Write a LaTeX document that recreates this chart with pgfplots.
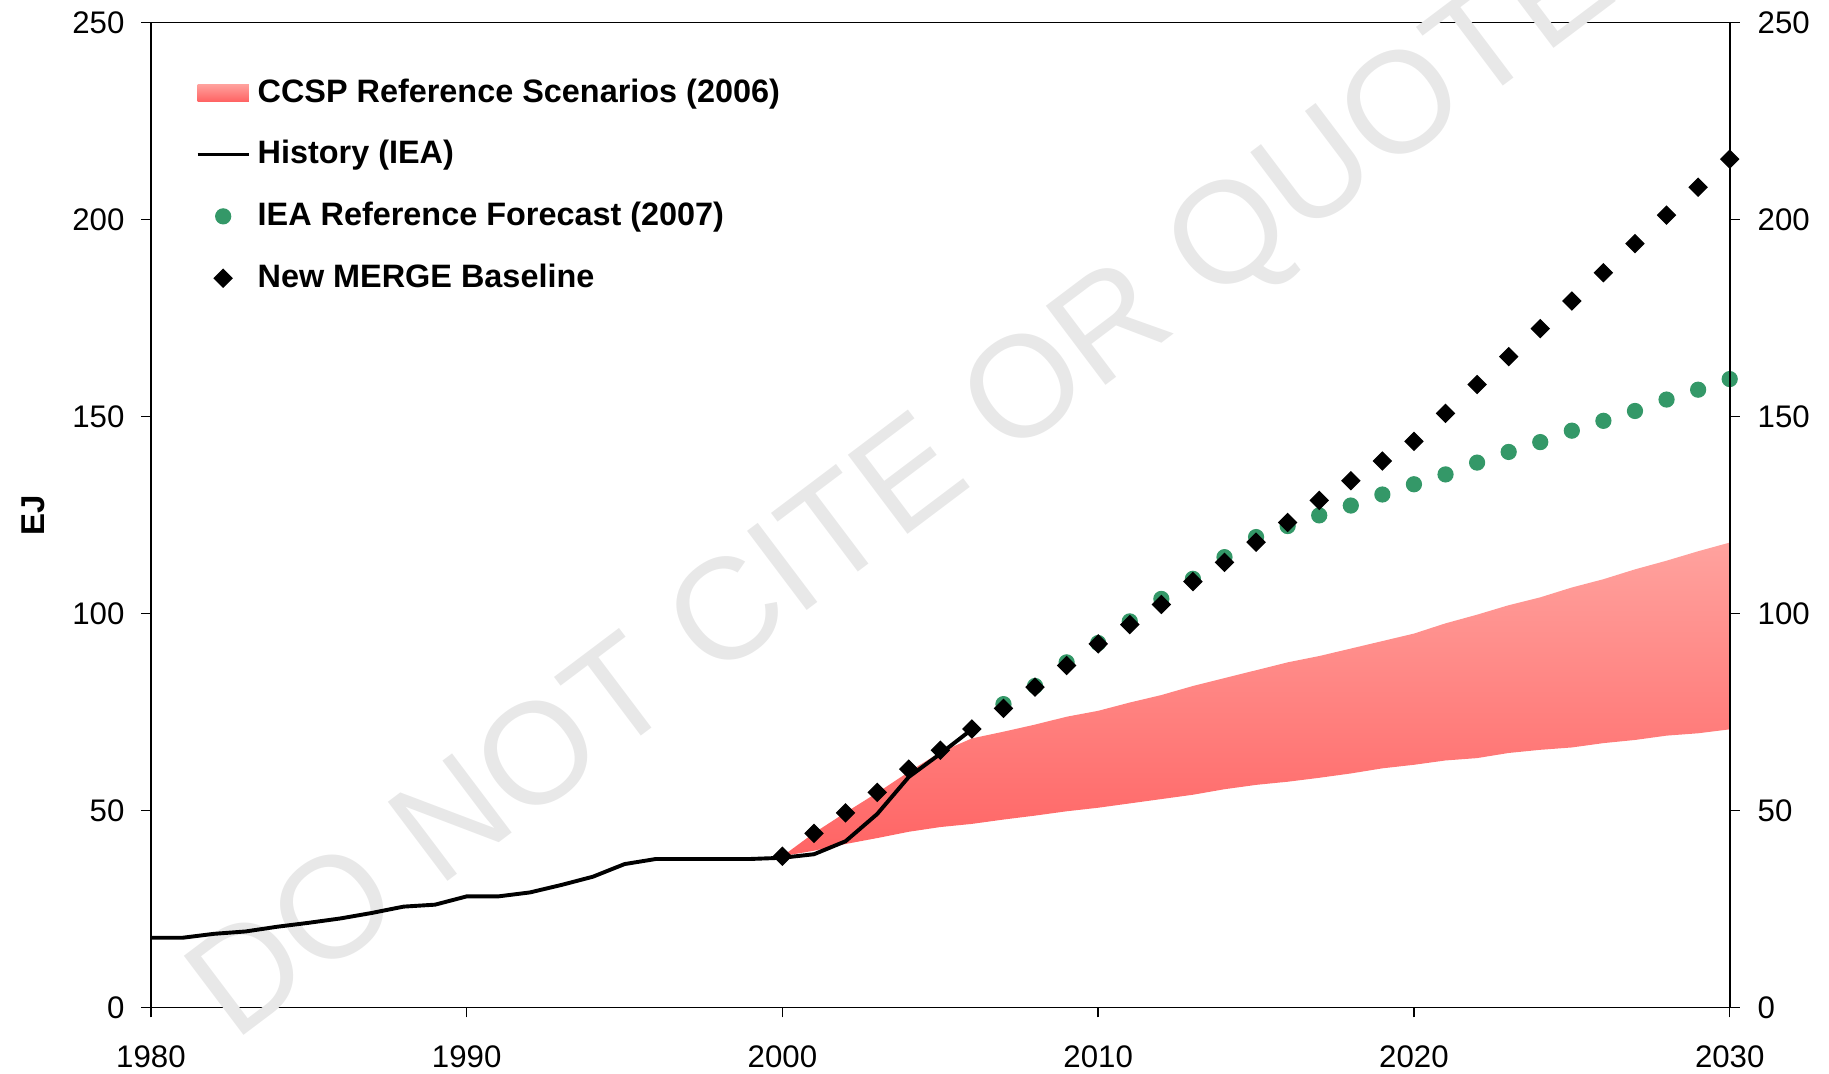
\documentclass[border=0pt]{standalone}
\usepackage{fontspec}
\setmainfont{Liberation Sans}
\usepackage{pgfplots}
\pgfplotsset{compat=1.18}
\definecolor{bandtop}{RGB}{255,162,158}
\definecolor{bandbot}{RGB}{255,100,100}
\definecolor{ieagreen}{RGB}{52,152,104}

\pgfplotsset{
  ejbase/.style={
    scale only axis, width=526.2pt, height=328.3pt,
    xmin=1980, xmax=2030, ymin=0, ymax=250,
    xtick={1980,1990,...,2030}, ytick={0,50,...,250},
    minor tick num=0, tick align=outside, major tick length=3.3pt,
    tick style={black, line width=0.5pt},
    axis line style={black, line width=0.6pt},
    ticklabel style={font=\fontsize{10.4}{12}\selectfont},
    /pgf/number format/1000 sep={},
    /pgf/number format/assume math mode=true,
  },
}

\begin{document}
\begin{tikzpicture}
\path[use as bounding box] (-50.3pt,-21.9pt) rectangle (559.3pt,335.8pt);

\begin{axis}[ejbase, clip=false,
  xtick pos=left, ytick pos=left,
  xticklabel style={yshift=-6pt},
  yticklabel style={xshift=-2pt},
  ylabel={\bfseries EJ},
  ylabel style={at={(axis description cs:-0.0747,0.5)}, anchor=center,
    font=\fontsize{11}{13}\selectfont},
  legend cell align=left,
  legend style={at={(axis description cs:0,1)}, anchor=north west,
    xshift=14.7pt, yshift=-18pt, draw=none, fill=none, inner sep=0pt,
    row sep=10.3pt, column sep=1.8pt,
    font=\bfseries\fontsize{10.8}{13}\selectfont,
    nodes={inner sep=0.5pt}},
]
% watermark
\node[anchor=base west, rotate=37, inner sep=0pt, text=black!9,
  font=\fontsize{48}{48}\selectfont] at (axis cs:1982.62,-9.0) {DO NOT CITE OR QUOTE};

\addplot[draw=none, top color=bandtop, bottom color=bandbot,
  legend image code/.code={\path[top color=bandtop, bottom color=bandbot]
    (0cm,-0.1cm) rectangle (0.6cm,0.1cm);}] coordinates {
(2000,38.4) (2001,44.3) (2002,49.5) (2003,54.5) (2004,59.8) (2005,64.8)
(2006,68.3) (2007,70.0) (2008,71.8) (2009,73.8) (2010,75.3) (2011,77.4)
(2012,79.3) (2013,81.6) (2014,83.6) (2015,85.6) (2016,87.6) (2017,89.2)
(2018,91.1) (2019,93.0) (2020,94.9) (2021,97.5) (2022,99.7) (2023,102.1)
(2024,104.1) (2025,106.6) (2026,108.7) (2027,111.2) (2028,113.4) (2029,115.8)
(2030,118.0)
(2030,70.6) (2029,69.6) (2028,69.0) (2027,67.9) (2026,67.1) (2025,66.0)
(2024,65.4) (2023,64.6) (2022,63.3) (2021,62.7) (2020,61.6) (2019,60.7)
(2018,59.4) (2017,58.3) (2016,57.3) (2015,56.5) (2014,55.4) (2013,54.0)
(2012,52.9) (2011,51.8) (2010,50.7) (2009,49.8) (2008,48.7) (2007,47.7)
(2006,46.6) (2005,45.8) (2004,44.6) (2003,43.0) (2002,41.5) (2001,39.8)
(2000,38.4)} -- cycle;
\addlegendentry{CCSP Reference Scenarios (2006)}

\addplot[black, line width=1.3pt, no marks] coordinates {
(1980,17.7) (1981,17.7) (1982,18.7) (1983,19.3) (1984,20.5) (1985,21.5)
(1986,22.6) (1987,24.0) (1988,25.6) (1989,26.1) (1990,28.2) (1991,28.2)
(1992,29.2) (1993,31.1) (1994,33.2) (1995,36.4) (1996,37.7) (1997,37.7)
(1998,37.7) (1999,37.7) (2000,38.0) (2001,38.9) (2002,42.2) (2003,49.1)
(2004,58.5) (2005,64.4) (2006,70.6)};
\addlegendentry{History (IEA)}

\addplot[only marks, mark=*, mark size=2.5pt, ieagreen, mark options={draw=ieagreen, fill=ieagreen}] coordinates {
(2007,77.0) (2008,81.6) (2009,87.6) (2010,92.5) (2011,98.0) (2012,103.7)
(2013,108.8) (2014,114.3) (2015,119.4) (2016,122.2) (2017,124.9) (2018,127.4)
(2019,130.2) (2020,132.8) (2021,135.3) (2022,138.3) (2023,141.0) (2024,143.5)
(2025,146.4) (2026,148.9) (2027,151.4) (2028,154.3) (2029,156.8) (2030,159.5)};
\addlegendentry{IEA Reference Forecast (2007)}

\addplot[only marks, mark=square*, mark size=2.1pt, black, mark options={rotate=45, fill=black}] coordinates {
(2000,38.4) (2001,44.2) (2002,49.4) (2003,54.6) (2004,60.5) (2005,65.3)
(2006,70.7) (2007,75.9) (2008,81.3) (2009,86.8) (2010,92.3) (2011,97.2)
(2012,102.3) (2013,108.1) (2014,113.0) (2015,118.1) (2016,123.1) (2017,128.7)
(2018,133.7) (2019,138.7) (2020,143.7) (2021,150.8) (2022,158.1) (2023,165.2)
(2024,172.3) (2025,179.3) (2026,186.5) (2027,193.9) (2028,201.1) (2029,208.2)
(2030,215.3)};
\addlegendentry{New MERGE Baseline}
\end{axis}

\begin{axis}[ejbase,
  axis x line=none, axis y line*=right,
  ytick pos=right, yticklabel pos=right,
  yticklabel style={xshift=2.5pt},
]
\end{axis}
\end{tikzpicture}
\end{document}
